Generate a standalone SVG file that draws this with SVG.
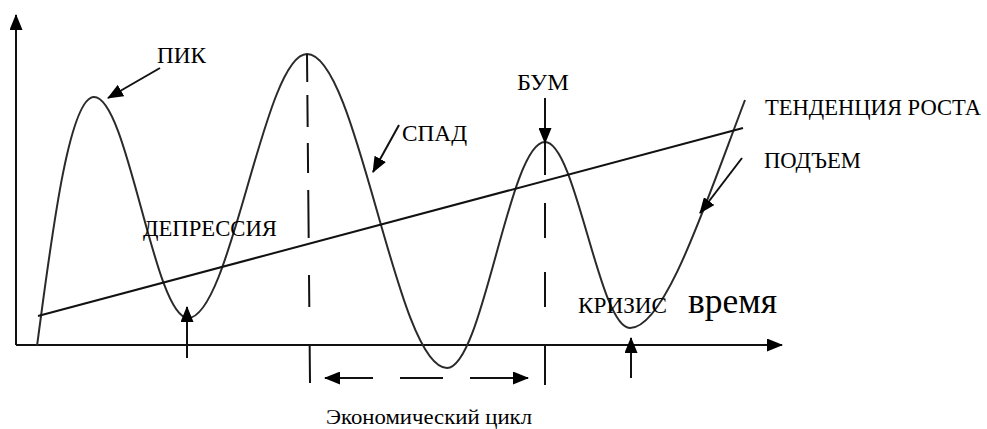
<svg xmlns="http://www.w3.org/2000/svg" width="987" height="429" viewBox="0 0 987 429">
<style>
.ln{fill:none;stroke:#111;stroke-width:2}
.cv{fill:none;stroke:#2a2a2a;stroke-width:2}
.ar{fill:none;stroke:#111;stroke-width:2;marker-end:url(#ah)}
.tx{font-family:"Liberation Serif","Times New Roman",serif;font-size:23px;fill:#000}
</style>
<defs>
<marker id="ah" markerUnits="userSpaceOnUse" markerWidth="16" markerHeight="13" viewBox="0 0 16 13" refX="15" refY="6.5" orient="auto">
<path d="M0,0 L16,6.5 L0,13 Z" fill="#000"/>
</marker>
</defs>
<rect width="987" height="429" fill="#fff"/>
<g id="axes">
<path class="ar" d="M16,345 L16,15"/>
<path class="ar" d="M16,345 L782,345"/>
</g>
<g id="cycle-curve">
<path class="cv" d="M37,346 C50,250 68,97 94,97 C128,97 154,318 188,318 C231,318 264,54 307,54 C358,54 396,368 447,368 C483,368 509,142 545,142 C576,142 599,328 630,328 C665,328 705,205 745,100"/>
</g>
<g id="trend-line">
<path class="ln" d="M38,316 L743,128"/>
</g>
<g id="connectors">
<path class="ln" d="M307,54 L310,383" stroke-dasharray="28 13 32 16 30 17 48 37 32 38 38"/>
<path class="ln" d="M545,143 L545,385" stroke-dasharray="32 28 35 34 35 38 40"/>
<path class="ar" d="M160,68 L108,98"/>
<path class="ar" d="M545,98 L545,143"/>
<path class="ar" d="M399,125 L373,172"/>
<path class="ar" d="M742,158 L700,213"/>
<path class="ar" d="M187,358 L187,307"/>
<path class="ar" d="M631,378 L631,338"/>
<path class="ar" d="M373,378 L325,378"/>
<path class="ln" d="M400,378 L443,378"/>
<path class="ar" d="M470,378 L528,378"/>
</g>
<g id="label-pik"><text class="tx" x="157" y="63" textLength="49" lengthAdjust="spacingAndGlyphs">ПИК</text></g>
<g id="label-bum"><text class="tx" x="517" y="90" textLength="52" lengthAdjust="spacingAndGlyphs">БУМ</text></g>
<g id="label-spad"><text class="tx" x="402" y="141" textLength="65" lengthAdjust="spacingAndGlyphs">СПАД</text></g>
<g id="label-trend"><text class="tx" x="765" y="115" textLength="216" lengthAdjust="spacingAndGlyphs">ТЕНДЕНЦИЯ РОСТА</text></g>
<g id="label-podem"><text class="tx" x="764" y="168" textLength="97" lengthAdjust="spacingAndGlyphs">ПОДЪЕМ</text></g>
<g id="label-depressia"><text class="tx" x="143" y="236" textLength="134" lengthAdjust="spacingAndGlyphs">ДЕПРЕССИЯ</text></g>
<g id="label-krizis"><text class="tx" x="578" y="313" textLength="89" lengthAdjust="spacingAndGlyphs">КРИЗИС</text></g>
<g id="label-vremya"><text class="tx" x="688" y="313" style="font-size:36px" textLength="89" lengthAdjust="spacingAndGlyphs">время</text></g>
<g id="label-cycle"><text class="tx" x="326" y="424" style="font-size:21px" textLength="206" lengthAdjust="spacingAndGlyphs">Экономический цикл</text></g>
</svg>
